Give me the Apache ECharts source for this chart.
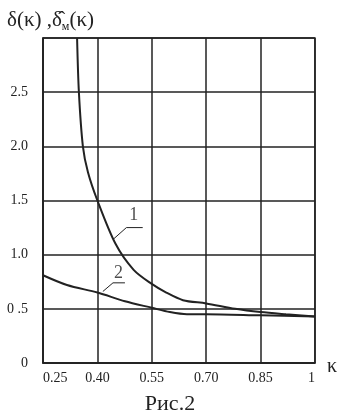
<!DOCTYPE html>
<html>
<head>
<meta charset="utf-8">
<script src="https://cdn.jsdelivr.net/npm/echarts@6/dist/echarts.min.js"></script>
<style>
  html, body { margin: 0; padding: 0; background: #fff; }
  #chart { width: 340px; height: 415px; }
</style>
</head>
<body>
<div id="chart"></div>
<script>
// данные с рисунка
const xTickLabels = ['0.25', '0.40', '0.55', '0.70', '0.85', '1']
const yTickLabels = ['0', '0 .5', '1.0', '1.5', '2.0', '2.5', '']

// кривая 1: δ(κ)
const curve1 = [
  [0.344, 3.0], [0.349, 2.5], [0.36, 2.0], [0.374, 1.76], [0.40, 1.5],
  [0.45, 1.1], [0.50, 0.86], [0.55, 0.73], [0.59, 0.65], [0.636, 0.58],
  [0.70, 0.55], [0.78, 0.5], [0.85, 0.47], [0.92, 0.45], [1.0, 0.43]
]
// кривая 2: δм(κ)
const curve2 = [
  [0.25, 0.81], [0.316, 0.72], [0.40, 0.65], [0.476, 0.57], [0.55, 0.51],
  [0.60, 0.47], [0.647, 0.45], [0.70, 0.45], [0.85, 0.44], [1.0, 0.43]
]
// выноски с номерами кривых
const leader1 = [[0.443, 1.14], [0.48, 1.25], [0.525, 1.25]]
const leader2 = [[0.415, 0.66], [0.443, 0.74], [0.476, 0.74]]
const label1 = [0.50, 1.36]
const label2 = [0.458, 0.83]

const ink = '#222'
const font = 'Liberation Serif'

const chart = echarts.init(document.getElementById('chart'))

const option = {
  animation: false,
  title: {
    left: 2,
    top: 2,
    text: '{a|δ(κ) ,δ̂}{s|м}{a|(κ)}',
    textStyle: {
      fontWeight: 'normal',
      rich: {
        a: { fontFamily: font, fontSize: 21, fontWeight: 'normal', color: ink },
        s: { fontFamily: font, fontSize: 12, fontWeight: 'normal', color: ink, padding: [14, 0, 0, 0] }
      }
    }
  },
  graphic: [{
    type: 'text',
    left: 'center',
    top: 393,
    style: { text: 'Рис.2', font: '22px "Liberation Serif"', fill: ink }
  }],
  grid: {
    left: 43,
    right: 25,
    top: 38,
    bottom: 52,
    show: true,
    borderColor: ink,
    borderWidth: 1.5
  },
  xAxis: {
    type: 'value',
    min: 0.25,
    max: 1,
    interval: 0.15,
    name: 'κ',
    nameLocation: 'end',
    nameGap: 12,
    nameTextStyle: { fontFamily: font, fontSize: 20, color: ink, verticalAlign: 'top', padding: [-6, 0, 0, 0] },
    axisLine: { lineStyle: { color: ink, width: 1.5 } },
    axisTick: { show: false },
    splitLine: { lineStyle: { color: ink, width: 1.5 } },
    axisLabel: {
      margin: 8,
      fontFamily: font,
      fontSize: 14,
      color: ink,
      alignMinLabel: 'left',
      alignMaxLabel: 'right',
      formatter: (v, i) => xTickLabels[i] ?? ''
    }
  },
  yAxis: {
    type: 'value',
    min: 0,
    max: 3,
    interval: 0.5,
    axisLine: { lineStyle: { color: ink, width: 1.5 } },
    axisTick: { show: false },
    splitLine: { lineStyle: { color: ink, width: 1.5 } },
    axisLabel: {
      margin: 15,
      fontFamily: font,
      fontSize: 14,
      color: ink,
      formatter: (v, i) => yTickLabels[i] ?? ''
    }
  },
  series: [
    {
      type: 'line', data: curve1, smooth: 0.3, symbol: 'none',
      lineStyle: { color: ink, width: 2 }
    },
    {
      type: 'line', data: curve2, smooth: 0.3, symbol: 'none',
      lineStyle: { color: ink, width: 2 }
    },
    {
      type: 'line', data: leader1, symbol: 'none',
      lineStyle: { color: ink, width: 1 }
    },
    {
      type: 'line', data: leader2, symbol: 'none',
      lineStyle: { color: ink, width: 1 }
    },
    {
      type: 'scatter', symbolSize: 0,
      data: [{ value: label1, label: { formatter: '1' } }, { value: label2, label: { formatter: '2' } }],
      label: { show: true, position: 'inside', fontFamily: font, fontSize: 18, color: ink }
    }
  ]
}

chart.setOption(option)
</script>
</body>
</html>
